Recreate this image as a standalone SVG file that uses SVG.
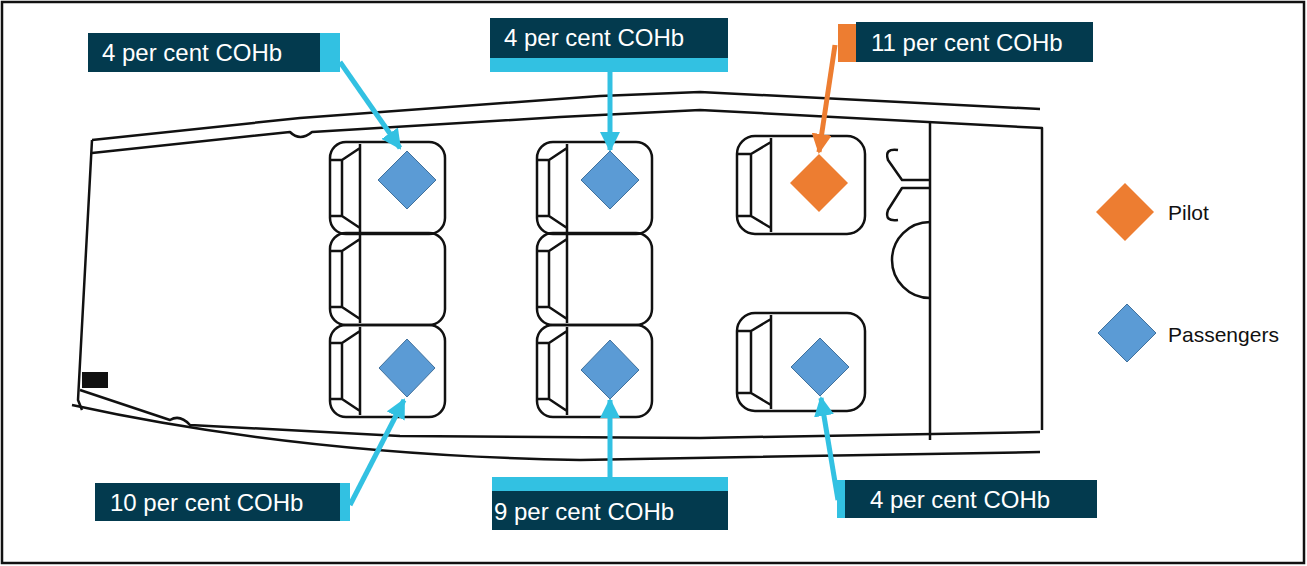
<svg xmlns="http://www.w3.org/2000/svg" width="1307" height="566" viewBox="0 0 1307 566">
<defs>
<style>
.ln{fill:none;stroke:#111;stroke-width:2.5;stroke-linejoin:round}
.lbl{fill:#033a4e}
.cy{fill:#32c1e2}
.or{fill:#ed7d31}
.t{font-family:"Liberation Sans",Arial,sans-serif;font-size:24px;fill:#fff}
.lg{font-family:"Liberation Sans",Arial,sans-serif;font-size:21px;fill:#111}
.pd{fill:#5b9bd5;stroke:#41719c;stroke-width:1}
.od{fill:#ed7d31}
.ac{stroke:#32c1e2;stroke-width:5;fill:none}
.ao{stroke:#ed7d31;stroke-width:5;fill:none}
</style>
<marker id="mc" viewBox="0 0 10 10" refX="9" refY="5" markerWidth="4" markerHeight="4" orient="auto"><path d="M0,0L10,5L0,10z" fill="#32c1e2"/></marker>
<marker id="mo" viewBox="0 0 10 10" refX="9" refY="5" markerWidth="4" markerHeight="4" orient="auto"><path d="M0,0L10,5L0,10z" fill="#ed7d31"/></marker>
<g id="seat"><rect x="0" y="0" width="115" height="92" rx="16" class="ln"/><path d="M30,2V90M30,6L12,18V74L30,86M12,18H0M12,74H0" class="ln"/></g>
<g id="seatb"><rect x="0" y="0" width="128" height="98" rx="18" class="ln"/><path d="M34,2V96M34,6L14,18V80L34,92M14,18H0M14,80H0" class="ln"/></g>
</defs>
<rect x="0" y="0" width="1307" height="566" fill="#fff"/>
<rect x="2" y="2" width="1302" height="561" fill="none" stroke="#111" stroke-width="2.5"/>
<g id="fuselage">
<path class="ln" d="M92,140L300,118L600,96L700,92L1040,109"/>
<path class="ln" d="M92,153L290,132Q300,142 312,132L560,117L700,110L1042,128V430"/>
<path class="ln" d="M92,140L78,400L82,410"/>
<path class="ln" d="M80,390L170,420Q180,414 190,425L400,436L700,438L1040,432"/>
<path class="ln" d="M72,405Q300,455 580,460L1040,452"/>
<path class="ln" d="M930,122V440"/>
<path class="ln" d="M930,222A30,30 0 0 0 930,298"/>
<path class="ln" d="M930,180H902L888,160Q884,148 898,150M930,188H902L888,210Q884,222 898,220"/>
<rect x="82" y="372" width="26" height="16" fill="#111"/>
</g>
<g id="seats">
<use href="#seat" x="330" y="142"/><use href="#seat" x="330" y="233"/><use href="#seat" x="330" y="325"/>
<use href="#seat" x="537" y="142"/><use href="#seat" x="537" y="233"/><use href="#seat" x="537" y="325"/>
<use href="#seatb" x="737" y="136"/><use href="#seatb" x="737" y="313"/>
</g>
<g id="connectors">
<path class="ac" d="M340,62L400,148" marker-end="url(#mc)"/>
<path class="ac" d="M610,72V150" marker-end="url(#mc)"/>
<path class="ao" d="M835,45L819,152" marker-end="url(#mo)"/>
<path class="ac" d="M350,505L404,400" marker-end="url(#mc)"/>
<path class="ac" d="M610,478V400" marker-end="url(#mc)"/>
<path class="ac" d="M838,500L821,398" marker-end="url(#mc)"/>
</g>
<g id="d1"><path class="pd" d="M407,151L436,180L407,209L378,180z"/></g>
<g id="d2"><path class="pd" d="M610,151L639,180L610,209L581,180z"/></g>
<g id="d3"><path class="od" d="M819,154L848,183L819,212L790,183z"/></g>
<g id="d4"><path class="pd" d="M407,339L435,368L407,397L379,368z"/></g>
<g id="d5"><path class="pd" d="M610,340L639,370L610,399L581,370z"/></g>
<g id="d6"><path class="pd" d="M820,338L849,367L820,396L791,367z"/></g>
<g id="l1"><rect class="lbl" x="88" y="33" width="233" height="39"/><rect class="cy" x="320" y="33" width="20" height="39"/><text class="t" x="102" y="61">4 per cent COHb</text></g>
<g id="l2"><rect class="lbl" x="490" y="18" width="238" height="40"/><rect class="cy" x="490" y="58" width="238" height="14"/><text class="t" x="504" y="46">4 per cent COHb</text></g>
<g id="l3"><rect class="or" x="838" y="24" width="19" height="38"/><rect class="lbl" x="856" y="22" width="237" height="40"/><text class="t" x="871" y="51">11 per cent COHb</text></g>
<g id="l4"><rect class="lbl" x="95" y="483" width="246" height="38"/><rect class="cy" x="340" y="483" width="10" height="38"/><text class="t" x="110" y="511">10 per cent COHb</text></g>
<g id="l5"><rect class="cy" x="492" y="477" width="236" height="14"/><rect class="lbl" x="492" y="491" width="236" height="39"/><text class="t" x="494" y="520">9 per cent COHb</text></g>
<g id="l6"><rect class="cy" x="837" y="480" width="9" height="38"/><rect class="lbl" x="845" y="480" width="252" height="38"/><text class="t" x="870" y="508">4 per cent COHb</text></g>
<g id="legend-pilot"><path class="od" d="M1125,183L1154,212L1125,241L1096,212z"/><text class="lg" x="1168" y="220">Pilot</text></g>
<g id="legend-passengers"><path class="pd" d="M1127,304L1156,333L1127,362L1098,333z"/><text class="lg" x="1168" y="342">Passengers</text></g>
</svg>
